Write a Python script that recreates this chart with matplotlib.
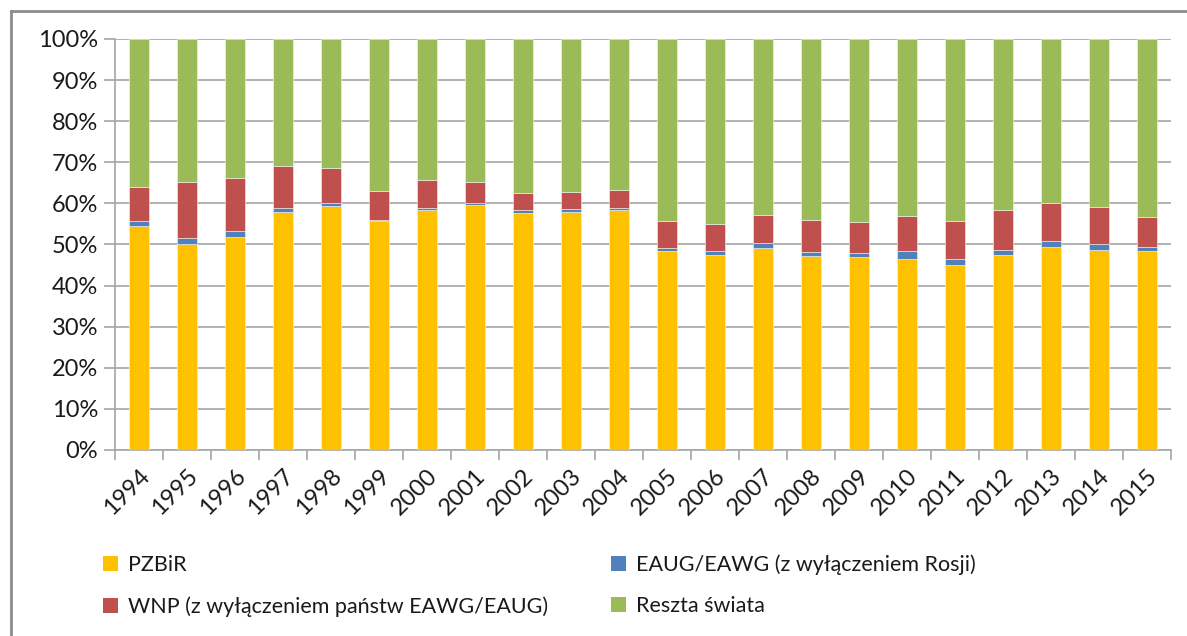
import matplotlib
matplotlib.use("Agg")
import matplotlib.pyplot as plt
from matplotlib.patches import Patch
from matplotlib.lines import Line2D
import numpy as np

plt.rcParams['font.family'] = ['Lato', 'DejaVu Sans']

years = [str(y) for y in range(1994, 2016)]
pzbir = [54.5, 50.1, 51.8, 58.0, 59.4, 55.6, 58.3, 59.7, 57.7, 58.0, 58.3,
         48.3, 47.4, 49.2, 47.2, 46.9, 46.5, 45.1, 47.4, 49.5, 48.7, 48.3]
eaug = [1.1, 1.5, 1.5, 1.0, 0.7, 0.4, 0.7, 0.3, 0.7, 0.6, 0.7,
        0.9, 0.9, 1.2, 0.9, 1.1, 1.8, 1.4, 1.3, 1.4, 1.3, 1.2]
wnp = [8.5, 13.7, 12.9, 10.2, 8.4, 7.0, 6.7, 5.3, 4.1, 4.1, 4.3,
       6.5, 6.8, 6.7, 7.9, 7.4, 8.6, 9.2, 9.6, 9.1, 9.1, 7.3]
reszta = [35.9, 34.7, 33.8, 30.8, 31.5, 37.0, 34.3, 34.7, 37.5, 37.3, 36.7,
          44.3, 44.9, 42.9, 44.0, 44.6, 43.1, 44.3, 41.7, 40.0, 40.9, 43.2]

labels = ["PZBiR", "EAUG/EAWG (z wyłączeniem Rosji)",
          "WNP (z wyłączeniem państw EAWG/EAUG)", "Reszta świata"]
colors = ["#FFC000", "#4F81BD", "#C0504D", "#9BBB59"]

W, H = 1187, 636
fig = plt.figure(figsize=(W / 100, H / 100), dpi=100)
ax = fig.add_axes([115 / W, 1 - 450 / H, (1171 - 115) / W, (450 - 39) / H])

x = np.arange(len(years))
series = [pzbir, eaug, wnp, reszta]
bottom = np.zeros(len(years))
for vals, c, lab in zip(series, colors, labels):
    v = np.array(vals)
    ax.bar(x, v, bottom=bottom, width=0.42, color=c, label=lab,
           edgecolor='#f4f4f0', linewidth=0.4, zorder=3)
    bottom += v

ax.set_xlim(-0.5, len(years) - 0.5)
ax.set_ylim(0, 100)
ax.set_yticks(np.arange(0, 101, 10))
ax.set_yticklabels([f"{v}%" for v in range(0, 101, 10)], fontsize=17, color='#1a1a1a')
ax.yaxis.grid(True, color='#A6A6A6', linewidth=1.2, zorder=0)
ax.set_axisbelow(True)

ax.set_xticks(x)
ax.set_xticklabels(years, rotation=45, ha='right', rotation_mode='anchor',
                   fontsize=17, color='#1a1a1a')
ax.tick_params(axis='x', length=0, pad=11)
ax.set_xticks(np.arange(-0.5, len(years), 1), minor=True)
ax.tick_params(axis='x', which='minor', length=7, color='#A6A6A6', width=1.2)
ax.tick_params(axis='y', length=8, color='#A6A6A6', width=1.2, pad=4)

for s in ['top', 'right']:
    ax.spines[s].set_visible(False)
for s in ['left', 'bottom']:
    ax.spines[s].set_color('#A6A6A6')
    ax.spines[s].set_linewidth(1.2)

# legend
handles = [Patch(facecolor=c, edgecolor='none') for c in colors]
order = [0, 2, 1, 3]
leg = fig.legend([handles[i] for i in order], [labels[i] for i in order],
                 ncol=2, loc='upper left', bbox_to_anchor=(103 / W, 1 - 554 / H),
                 frameon=False, fontsize=15.5, handlelength=0.7, handleheight=0.7,
                 handletextpad=0.45, columnspacing=2.95, labelspacing=1.0,
                 borderpad=0, borderaxespad=0)
for t in leg.get_texts():
    t.set_color('#1a1a1a')

# outer border (left and top)
fig.add_artist(Line2D([10.5 / W, 10.5 / W], [0, 1 - 11 / H], transform=fig.transFigure,
                      color='#8C8C8C', linewidth=2))
fig.add_artist(Line2D([10.5 / W, 1], [1 - 11 / H, 1 - 11 / H], transform=fig.transFigure,
                      color='#8C8C8C', linewidth=2))

fig.savefig("out.png", dpi=100)
